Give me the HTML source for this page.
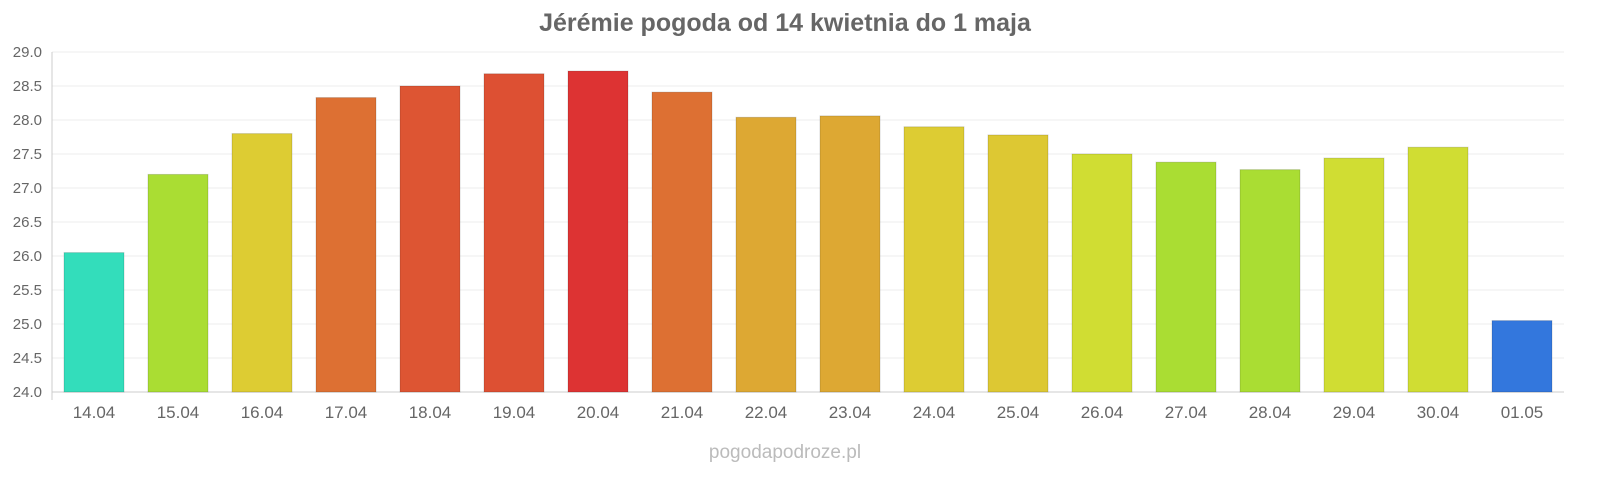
<!DOCTYPE html>
<html><head><meta charset="utf-8"><style>
html,body{margin:0;padding:0;background:#fff;}
svg text{font-family:"Liberation Sans",sans-serif;}
</style></head><body>
<svg id="chart" width="1600" height="480">
<text x="785" y="31" text-anchor="middle" font-size="25" font-weight="bold" fill="#666">Jérémie pogoda od 14 kwietnia do 1 maja</text>
<g id="grid"></g><g id="bars"></g><g id="xlabels"></g>
<text x="785" y="458" text-anchor="middle" font-size="19" fill="#bbb">pogodapodroze.pl</text>
</svg>
<script>
const categories=["14.04","15.04","16.04","17.04","18.04","19.04","20.04","21.04","22.04","23.04","24.04","25.04","26.04","27.04","28.04","29.04","30.04","01.05"];
const values=[26.05,27.2,27.8,28.33,28.5,28.68,28.72,28.41,28.04,28.06,27.9,27.78,27.5,27.38,27.27,27.44,27.6,25.05];
const colors=["#33ddbb","#aadd33","#ddcc33","#dd7033","#dd5533","#dd5033","#dd3333","#dd7033","#dda833","#dda833","#ddcc33","#ddc833","#d0dd33","#aadd33","#aadd33","#d0dd33","#d0dd33","#3377dd"];
const ticks=[24.0,24.5,25.0,25.5,26.0,26.5,27.0,27.5,28.0,28.5,29.0];
const NS="http://www.w3.org/2000/svg";
const x0=52,x1=1564,yMin=24,yMax=29,py0=392,py1=52;
const step=(x1-x0)/categories.length;
function y(v){return py0-(v-yMin)/(yMax-yMin)*(py0-py1);}
function xc(i){return x0+step*(i+0.5);}
const grid=document.getElementById('grid'),bars=document.getElementById('bars'),xl=document.getElementById('xlabels');
ticks.forEach(t=>{
 const l=document.createElementNS(NS,'line');
 l.setAttribute('x1',x0);l.setAttribute('x2',x1);l.setAttribute('y1',y(t));l.setAttribute('y2',y(t));
 l.setAttribute('stroke',t===yMin?'#ccc':'#eee');l.setAttribute('stroke-width','1');
 
 
 grid.appendChild(l);
 const tx=document.createElementNS(NS,'text');
 tx.setAttribute('x',42);tx.setAttribute('y',y(t)+5);tx.setAttribute('text-anchor','end');
 tx.setAttribute('font-size','15');tx.setAttribute('fill','#666');tx.textContent=t.toFixed(1);
 
 
 grid.appendChild(tx);
});
const ax=document.createElementNS(NS,'line');
ax.setAttribute('x1',x0);ax.setAttribute('x2',x0);ax.setAttribute('y1',py1);ax.setAttribute('y2',400);ax.setAttribute('stroke','#ccc');


grid.appendChild(ax);
categories.forEach((c,i)=>{
 const r=document.createElementNS(NS,'rect');
 const w=60;
 r.setAttribute('x',xc(i)-w/2);r.setAttribute('width',w);
 r.setAttribute('y',y(values[i]));r.setAttribute('height',py0-y(values[i]));
 r.setAttribute('fill',colors[i]);r.setAttribute('stroke','rgba(0,0,0,0.15)');
 
 
 bars.appendChild(r);
 const t=document.createElementNS(NS,'text');
 t.setAttribute('x',xc(i));t.setAttribute('y',418);t.setAttribute('text-anchor','middle');
 t.setAttribute('font-size','17');t.setAttribute('fill','#666');t.textContent=c;
 
 
 xl.appendChild(t);
});
</script>
</body></html>
